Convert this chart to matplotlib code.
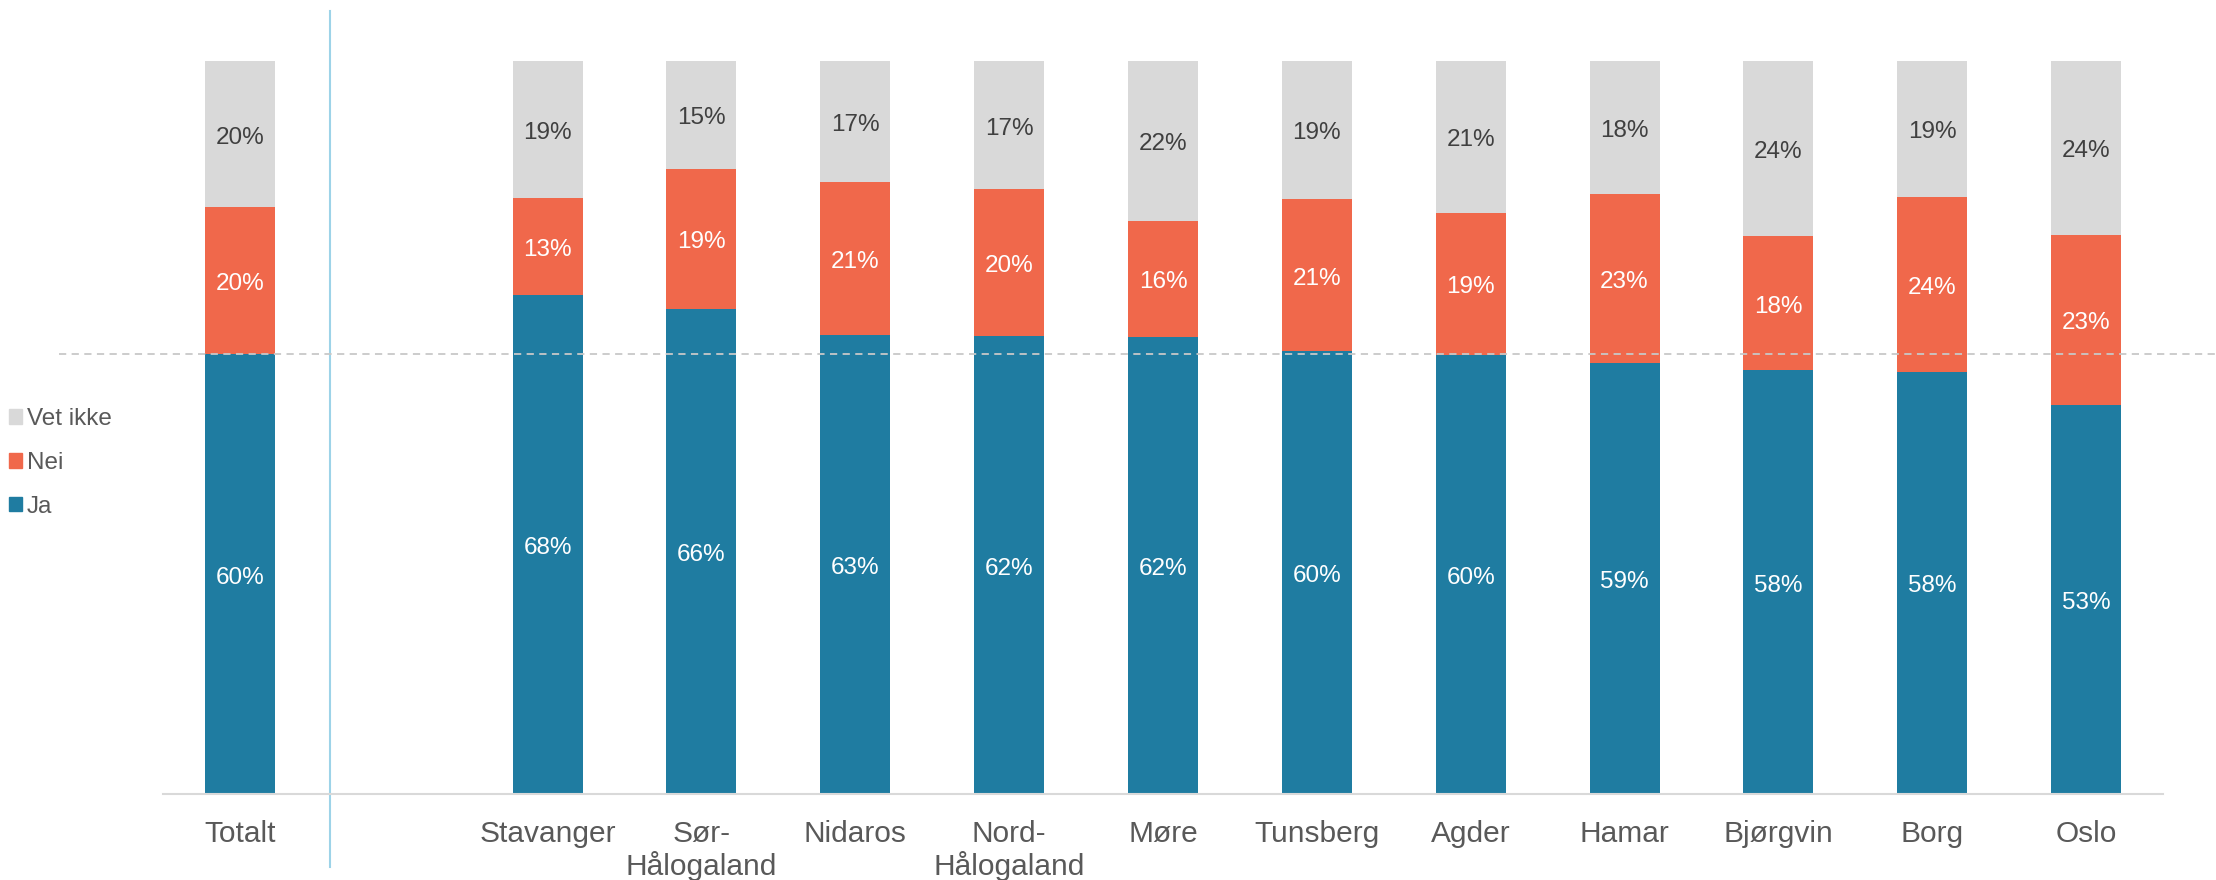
import matplotlib
matplotlib.use('Agg')
import matplotlib.pyplot as plt
from matplotlib.patches import Patch

plt.rcParams['font.family'] = ['Liberation Sans', 'DejaVu Sans']

# data (empty string = blank slot between Totalt and the regions)
categories = ['Totalt', '', 'Stavanger', 'Sør-\nHålogaland', 'Nidaros', 'Nord-\nHålogaland',
              'Møre', 'Tunsberg', 'Agder', 'Hamar', 'Bjørgvin', 'Borg', 'Oslo']
ja = [60.0, None, 68.1, 66.1, 62.6, 62.4, 62.3, 60.4, 59.9, 58.8, 57.8, 57.6, 53.1]
nei = [20.0, None, 13.2, 19.2, 20.8, 20.1, 15.9, 20.7, 19.4, 23.0, 18.3, 23.8, 23.1]
vet_ikke = [20.0, None, 18.7, 14.7, 16.6, 17.4, 21.8, 18.9, 20.7, 18.2, 23.9, 18.6, 23.8]
reference_line = 60

c_ja = '#1F7CA1'
c_nei = '#F0684B'
c_vet = '#D9D9D9'

fig = plt.figure(figsize=(22.16, 8.8), dpi=100)
ax = fig.add_axes([163 / 2216, 0.0977, 2000 / 2216, 0.8333])

idx = [i for i, c in enumerate(categories) if c]
x = idx
j = [ja[i] for i in idx]
n = [nei[i] for i in idx]
v = [vet_ikke[i] for i in idx]
bottom2 = [a + b for a, b in zip(j, n)]

w = 0.455
ax.bar(x, j, width=w, color=c_ja, label='Ja', zorder=2)
ax.bar(x, n, width=w, bottom=j, color=c_nei, label='Nei', zorder=2)
ax.bar(x, v, width=w, bottom=bottom2, color=c_vet, label='Vet ikke', zorder=2)


def label(xi, y, txt, col):
    ax.annotate(txt, (xi, y), xytext=(0, -2.5), textcoords='offset points',
                ha='center', va='center', color=col, fontsize=17.5)


for xi, a, b, c in zip(x, j, n, v):
    label(xi, a / 2, f'{a:.0f}%', 'white')
    label(xi, a + b / 2, f'{b:.0f}%', 'white')
    label(xi, a + b + c / 2, f'{c:.0f}%', '#404040')

ax.set_xlim(-0.5, len(categories) - 0.5)
ax.set_ylim(0, 100)
ax.set_xticks(range(len(categories)))
ax.set_xticklabels(categories, fontsize=21.5, color='#595959', linespacing=1.1)
ax.tick_params(axis='x', length=0, pad=19)
ax.set_yticks([])
for s in ['top', 'right', 'left']:
    ax.spines[s].set_visible(False)
ax.spines['bottom'].set_color('#D9D9D9')
ax.spines['bottom'].set_linewidth(1.5)

# dashed reference line across the figure
ax.axhline(reference_line, xmin=-0.052, xmax=1.03, color='#C8C8C8', linestyle=(0, (4, 3)),
           linewidth=1.3, clip_on=False, zorder=3)
# separator between Totalt and the regions
ax.axvline(0.584, ymin=-0.1, ymax=1.068, color='#9DD3E8', linewidth=1.5, clip_on=False)

handles = [Patch(color=c_vet, label='Vet ikke'), Patch(color=c_nei, label='Nei'),
           Patch(color=c_ja, label='Ja')]
fig.legend(handles=handles, loc='center left', bbox_to_anchor=(0.004, 0.474), frameon=False,
           fontsize=17.5, handlelength=0.55, handleheight=0.55, handletextpad=0.2,
           labelspacing=0.9, borderpad=0, borderaxespad=0, labelcolor='#595959')

fig.savefig('out.png', dpi=100)
